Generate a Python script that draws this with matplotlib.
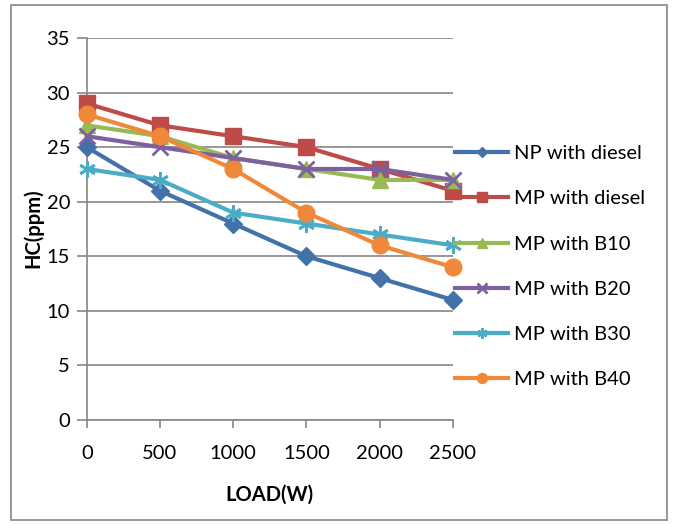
import matplotlib.pyplot as plt
from matplotlib.patches import Rectangle

plt.rcParams['font.family'] = ['Lato', 'DejaVu Sans']

load = [0, 500, 1000, 1500, 2000, 2500]

np_diesel = [25, 21, 18, 15, 13, 11]
mp_diesel = [29, 27, 26, 25, 23, 21]
mp_b10 = [27, 26, 24, 23, 22, 22]
mp_b20 = [26, 25, 24, 23, 23, 22]
mp_b30 = [23, 22, 19, 18, 17, 16]
mp_b40 = [28, 26, 23, 19, 16, 14]

labels = ["NP with diesel", "MP with diesel", "MP with B10",
          "MP with B20", "MP with B30", "MP with B40"]
colors = ["#4371AA", "#BE4B48", "#98B954", "#7D60A0", "#4BACC6", "#F0883A"]
markers = ["D", "s", "^", "x", "*", "o"]
msizes = [9, 11, 11, 11, 12, 12]

fig = plt.figure(figsize=(6.78, 5.25), dpi=100)
ax = fig.add_axes([0.128, 0.2, 0.54, 0.7276])

series = [np_diesel, mp_diesel, mp_b10, mp_b20, mp_b30, mp_b40]
for vals, lab, c, m, ms in zip(series, labels, colors, markers, msizes):
    mew = 2 if m in ("x", "*") else 1
    if m == "*":
        m = (6, 2, 0)
    ax.plot(load, vals, color=c, lw=3, marker=m, ms=ms, mec=c, mfc=c,
            mew=mew, label=lab, clip_on=False, zorder=3)

ax.set_xlim(0, 2500)
ax.set_ylim(0, 35)
ax.set_xticks(load)
ax.set_yticks(range(0, 36, 5))
ax.grid(axis="y", color="#868686", lw=1.2)
ax.set_axisbelow(True)
for s in ["top", "right"]:
    ax.spines[s].set_visible(False)
for s in ["left", "bottom"]:
    ax.spines[s].set_color("#868686")
    ax.spines[s].set_linewidth(1.2)
ax.tick_params(axis="y", length=7, width=1.2, color="#868686", labelsize=14.5, pad=5)
ax.tick_params(axis="x", length=6, width=1.2, color="#868686", labelsize=14.5, pad=12)

ax.set_xlabel("LOAD(W)", fontsize=14.5, fontweight="bold", labelpad=16)
fig.text(0.049, 0.565, "HC(ppm)", rotation=90, fontsize=14.5,
         fontweight="bold", ha="center", va="center")

fig.legend(loc="center left", bbox_to_anchor=(0.645, 0.492), frameon=False,
           fontsize=14.5, handlelength=2.6, labelspacing=1.4, handletextpad=0.3,
           markerscale=0.6)

fig.patches.append(Rectangle((0.016, 0.01), 0.968, 0.98, transform=fig.transFigure,
                             fill=False, edgecolor="#868686", lw=1.2))

fig.savefig("out.png", dpi=100)
